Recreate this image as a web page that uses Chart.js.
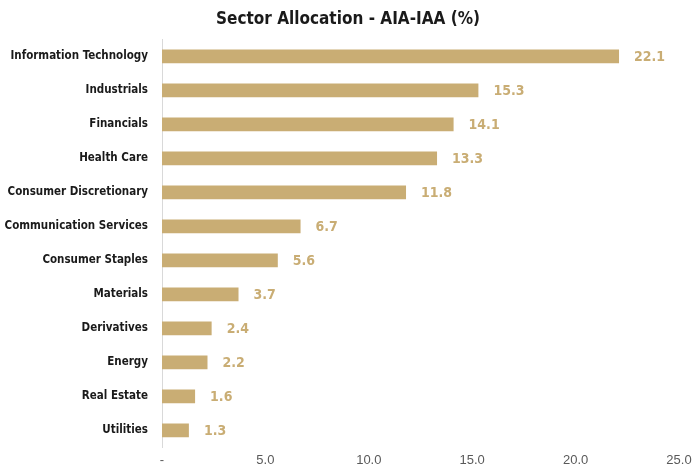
<!DOCTYPE html>
<html>
<head>
<meta charset="utf-8">
<script src="https://cdn.jsdelivr.net/npm/chart.js@4"></script>
<style>
  body { margin: 0; background: #fff; }
  #wrap { width: 694px; height: 473px; position: relative; }
</style>
</head>
<body>
<div id="wrap"><canvas id="sectorChart"></canvas></div>
<script>
const sectors = [
  "Information Technology",
  "Industrials",
  "Financials",
  "Health Care",
  "Consumer Discretionary",
  "Communication Services",
  "Consumer Staples",
  "Materials",
  "Derivatives",
  "Energy",
  "Real Estate",
  "Utilities",
];
const allocation = [22.1, 15.3, 14.1, 13.3, 11.8, 6.7, 5.6, 3.7, 2.4, 2.2, 1.6, 1.3];
const xTicks = [0, 5, 10, 15, 20, 25];

const narrow = '"Liberation Sans Narrow", "DejaVu Sans Condensed", "Arial Narrow", sans-serif';
const gold = "#c9ad74";

// draws the value at the end of each bar
const valueLabels = {
  id: "valueLabels",
  afterDatasetsDraw(chart) {
    const ctx = chart.ctx;
    const meta = chart.getDatasetMeta(0);
    ctx.save();
    ctx.fillStyle = gold;
    ctx.font = "bold 14px " + narrow;
    ctx.textAlign = "left";
    ctx.textBaseline = "middle";
    meta.data.forEach((bar, i) => {
      ctx.fillText(allocation[i].toFixed(1), bar.x + 15, bar.y + 1);
    });
    ctx.restore();
  },
};

const sectorChart = new Chart(document.getElementById("sectorChart"), {
  type: "bar",
  data: {
    labels: sectors,
    datasets: [
      {
        label: "AIA-IAA",
        data: allocation,
        backgroundColor: gold,
        barPercentage: 0.4,
        categoryPercentage: 1,
      },
    ],
  },
  options: {
    indexAxis: "y",
    responsive: true,
    maintainAspectRatio: false,
    animation: false,
    layout: { padding: { top: 9, right: 0, left: 2, bottom: 0 } },
    plugins: {
      legend: { display: false },
      tooltip: { enabled: false },
      title: {
        display: true,
        text: "Sector Allocation - AIA-IAA (%)",
        color: "#1a1a1a",
        font: { family: narrow, size: 17, weight: "bold" },
        padding: { top: 0, bottom: 10 },
      },
    },
    scales: {
      x: {
        min: 0,
        max: 25,
        afterBuildTicks(axis) {
          axis.ticks = xTicks.map((v) => ({ value: v }));
        },
        afterFit(axis) {
          axis.paddingRight = 15;
        },
        grid: { display: false, drawTicks: false },
        border: { display: false },
        ticks: {
          color: "#595959",
          font: { family: '"Liberation Sans", sans-serif', size: 13 },
          padding: 5,
          callback: (v) => (v === 0 ? "-" : v.toFixed(1)),
        },
      },
      y: {
        afterFit(axis) {
          axis.width = 160;
        },
        grid: { display: false, drawTicks: false },
        border: { display: true, color: "#d9d9d9", width: 1 },
        ticks: {
          color: "#1a1a1a",
          font: { family: narrow, size: 11.5, weight: "bold" },
          padding: 14,
        },
      },
    },
  },
  plugins: [valueLabels],
});
</script>
</body>
</html>
